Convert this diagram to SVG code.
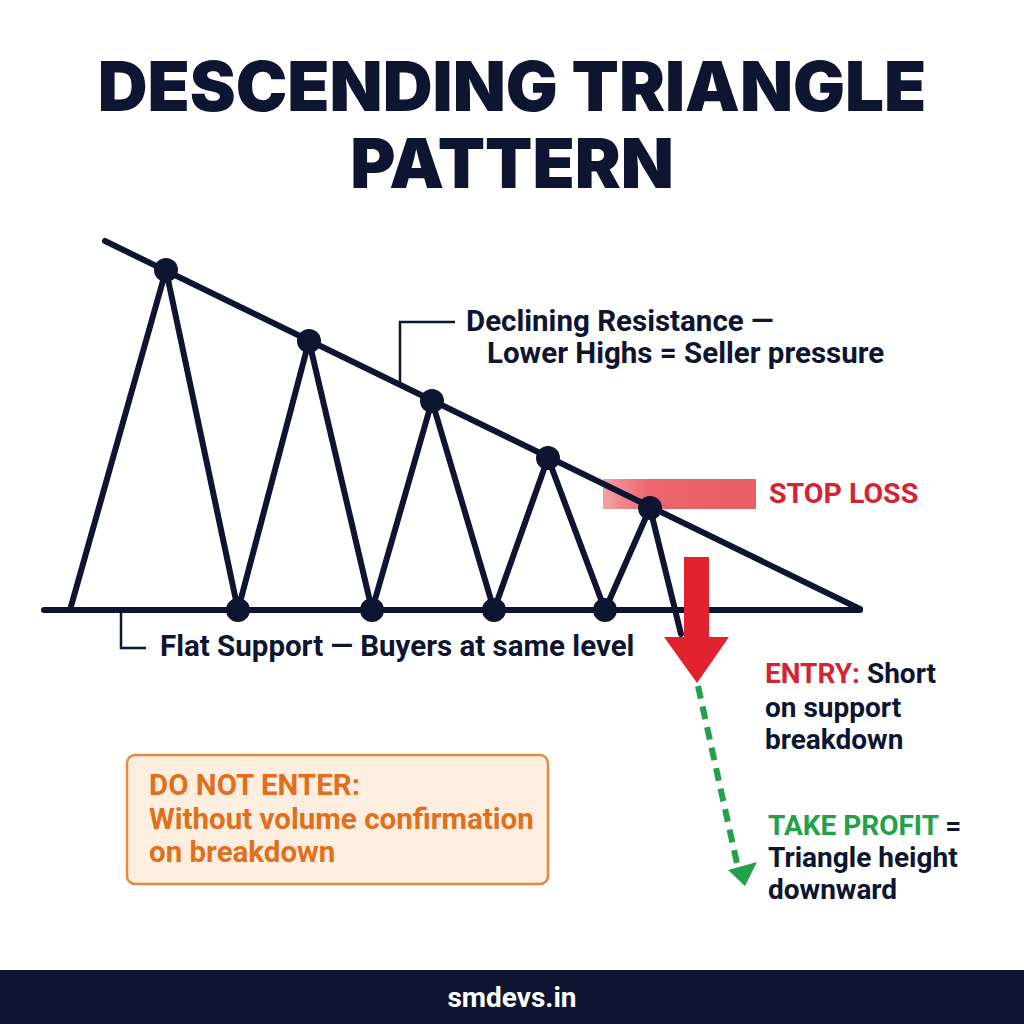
<svg xmlns="http://www.w3.org/2000/svg" width="1024" height="1024" viewBox="0 0 1024 1024">
<defs>
<style>
.title{font-family:Inter,"Liberation Sans",sans-serif;font-weight:900;font-size:69px;fill:#0e1530;text-anchor:middle}
.lbl{font-family:Roboto,"Liberation Sans",sans-serif;font-weight:700;font-size:28px;fill:#0e1530}
.big{font-size:29.5px}
.line{stroke:#0e1530;stroke-width:6;fill:none;stroke-linecap:round;stroke-linejoin:round}
.thin{stroke:#0e1530;stroke-width:2.5;fill:none}
.dot{fill:#0e1530}
.green{fill:#22a04a}
.orange{fill:#e0701e}
</style>
<linearGradient id="sl" x1="0" x2="1" y1="0" y2="0">
<stop offset="0" stop-color="#e8555d" stop-opacity="0.55"/>
<stop offset="0.3" stop-color="#e8555d" stop-opacity="0.9"/>
<stop offset="1" stop-color="#e8555d" stop-opacity="0.95"/>
</linearGradient>
</defs>
<rect width="1024" height="1024" fill="#ffffff"/>
<g id="title">
<text class="title" x="512" y="111">DESCENDING TRIANGLE</text>
<text class="title" x="512" y="188">PATTERN</text>
</g>
<g id="stoploss">
<rect x="603" y="479" width="153" height="30" fill="url(#sl)"/>
<text class="lbl" x="769" y="503" style="fill:#d42431;font-size:28.5px">STOP LOSS</text>
</g>
<g id="connectors">
<line class="line" x1="105" y1="241" x2="860" y2="609"/>
<line class="line" x1="44" y1="610" x2="860" y2="610"/>
<polyline class="line" points="70,610 166,270 238,610 309,341 372,610 432,401 494,610 548,458 605,610 650,508 681,634"/>
<polyline class="thin" points="455,322 400,322 400,383"/>
<polyline class="thin" points="121,610 121,648 146,648"/>
<line x1="698" y1="686" x2="738" y2="868" stroke="#22a04a" stroke-width="6" stroke-dasharray="13,8"/>
<polygon class="green" points="728,870 757,862 745,886"/>
</g>
<g id="points">
<circle class="dot" cx="166" cy="270" r="12"/>
<circle class="dot" cx="309" cy="341" r="12"/>
<circle class="dot" cx="432" cy="401" r="12"/>
<circle class="dot" cx="548" cy="458" r="12"/>
<circle class="dot" cx="650" cy="508" r="12"/>
<circle class="dot" cx="238" cy="610" r="12"/>
<circle class="dot" cx="372" cy="610" r="12"/>
<circle class="dot" cx="494" cy="610" r="12"/>
<circle class="dot" cx="605" cy="610" r="12"/>
</g>
<g id="entry-arrow">
<polygon fill="#e0232e" points="684,557 709,557 709,637 729,637 697,683 664,637 684,637"/>
</g>
<g id="resistance-label">
<text class="lbl big" x="466" y="331">Declining Resistance —</text>
<text class="lbl big" x="487" y="363">Lower Highs = Seller pressure</text>
</g>
<g id="support-label">
<text class="lbl big" x="160" y="656">Flat Support — Buyers at same level</text>
</g>
<g id="entry-label">
<text class="lbl" x="765" y="683"><tspan style="fill:#d42431">ENTRY:</tspan> Short</text>
<text class="lbl" x="765" y="717">on support</text>
<text class="lbl" x="765" y="749">breakdown</text>
</g>
<g id="tp-label">
<text class="lbl" x="768" y="835"><tspan style="fill:#22a04a">TAKE PROFIT</tspan> =</text>
<text class="lbl" x="768" y="867">Triangle height</text>
<text class="lbl" x="768" y="899">downward</text>
</g>
<g id="warning">
<rect x="127" y="755" width="421" height="129" rx="8" fill="#fdeee0" stroke="#e38a3e" stroke-width="2.5"/>
<text class="lbl big orange" x="149" y="795">DO NOT ENTER:</text>
<text class="lbl big orange" x="149" y="829">Without volume confirmation</text>
<text class="lbl big orange" x="149" y="862">on breakdown</text>
</g>
<g id="footer">
<rect x="0" y="970" width="1024" height="54" fill="#0e1530"/>
<text x="512" y="1007" text-anchor="middle" style="font-family:Roboto,'Liberation Sans',sans-serif;font-weight:700;font-size:28px;fill:#ffffff">smdevs.in</text>
</g>
</svg>
